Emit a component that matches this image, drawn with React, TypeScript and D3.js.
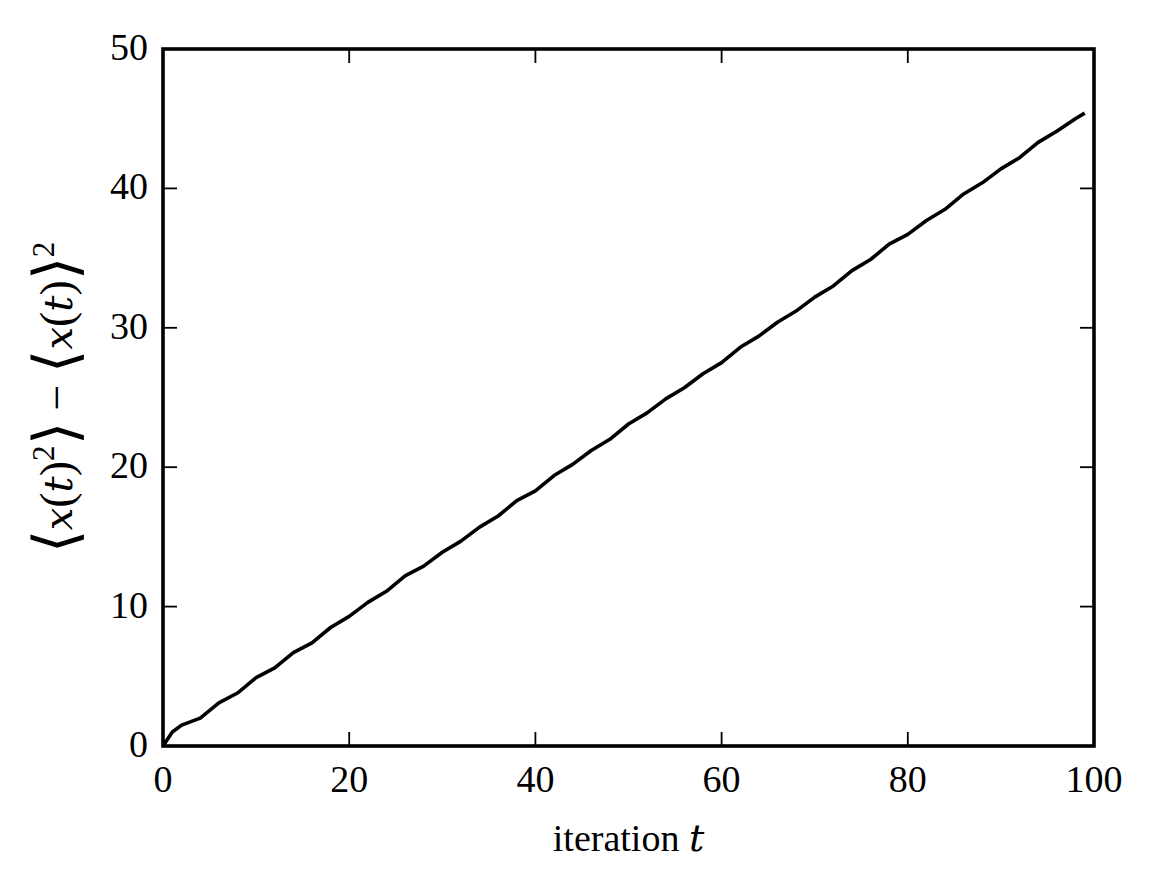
import React from "react";
import * as d3 from "d3";

// ── Data ──────────────────────────────────────────────────────────────────────

const ITERATIONS = [
  0, 1, 2, 4, 6, 8, 10, 12, 14, 16, 18, 20, 22, 24, 26, 28, 30, 32, 34, 36, 38,
  40, 42, 44, 46, 48, 50, 52, 54, 56, 58, 60, 62, 64, 66, 68, 70, 72, 74, 76,
  78, 80, 82, 84, 86, 88, 90, 92, 94, 96, 98, 99,
];
const VARIANCE = [
  0, 1.0, 1.5, 2.0, 3.1, 3.8, 4.9, 5.6, 6.7, 7.4, 8.5, 9.3, 10.3, 11.1, 12.2,
  12.9, 13.9, 14.7, 15.7, 16.5, 17.6, 18.3, 19.4, 20.2, 21.2, 22.0, 23.1, 23.9,
  24.9, 25.7, 26.7, 27.5, 28.6, 29.4, 30.4, 31.2, 32.2, 33.0, 34.1, 34.9, 36.0,
  36.7, 37.7, 38.5, 39.6, 40.4, 41.4, 42.2, 43.3, 44.1, 45.0, 45.4,
];
const X_TICKS = [0, 20, 40, 60, 80, 100];
const Y_TICKS = [0, 10, 20, 30, 40, 50];

// ── Layout ────────────────────────────────────────────────────────────────────

const W = 1155;
const H = 890;
const PLOT = { left: 163, right: 1094, top: 49, bottom: 746 };
const TICK = 14;
const FONT = "'Liberation Serif', 'Times New Roman', serif";
const MATH = "'DejaVu Serif', 'Liberation Serif', serif";
const FS = 38;

export default function App() {
  const x = d3.scaleLinear().domain([0, 100]).range([PLOT.left, PLOT.right]);
  const y = d3.scaleLinear().domain([0, 50]).range([PLOT.bottom, PLOT.top]);

  const line = d3
    .line<number>()
    .x((_, i) => x(ITERATIONS[i]))
    .y((v) => y(v));

  const midY = (PLOT.top + PLOT.bottom) / 2;
  const midX = (PLOT.left + PLOT.right) / 2;

  // pieces of the mathtext y label
  const bracket = { fontFamily: "'DejaVu Sans', sans-serif", fontSize: 60, fontWeight: 200 };
  const ital = { fontFamily: MATH, fontStyle: "italic" as const, fontSize: 40 };
  const paren = { fontFamily: FONT, fontSize: 46 };
  const up = { fontFamily: FONT, fontSize: 31 };

  return (
    <div style={{ position: "absolute", left: 0, top: 0 }}>
      <svg width={W} height={H} style={{ display: "block", background: "#fff" }}>
        <rect width={W} height={H} fill="#fff" />

        {/* data line */}
        <path
          d={line(VARIANCE) ?? ""}
          fill="none"
          stroke="#000"
          strokeWidth={3.6}
          strokeLinejoin="round"
        />

        {/* ticks, inward on all four sides */}
        {X_TICKS.map((t) => (
          <g key={`xt${t}`} stroke="#000" strokeWidth={1.8}>
            <line x1={x(t)} x2={x(t)} y1={PLOT.bottom} y2={PLOT.bottom - TICK} />
            <line x1={x(t)} x2={x(t)} y1={PLOT.top} y2={PLOT.top + TICK} />
          </g>
        ))}
        {Y_TICKS.map((t) => (
          <g key={`yt${t}`} stroke="#000" strokeWidth={1.8}>
            <line x1={PLOT.left} x2={PLOT.left + TICK} y1={y(t)} y2={y(t)} />
            <line x1={PLOT.right} x2={PLOT.right - TICK} y1={y(t)} y2={y(t)} />
          </g>
        ))}

        {/* frame */}
        <rect
          x={PLOT.left}
          y={PLOT.top}
          width={PLOT.right - PLOT.left}
          height={PLOT.bottom - PLOT.top}
          fill="none"
          stroke="#000"
          strokeWidth={3.6}
        />

        {/* tick labels */}
        <g fontFamily={FONT} fontSize={FS} fill="#000">
          {X_TICKS.map((t) => (
            <text key={`xl${t}`} x={x(t)} y={PLOT.bottom + 46} textAnchor="middle">
              {t}
            </text>
          ))}
          {Y_TICKS.map((t) => (
            <text key={`yl${t}`} x={PLOT.left - 15} y={y(t) + 11} textAnchor="end">
              {t}
            </text>
          ))}
        </g>

        {/* x label */}
        <text x={midX} y={851} textAnchor="middle" fontFamily={FONT} fontSize={FS}>
          iteration <tspan fontFamily={MATH} fontStyle="italic">t</tspan>
        </text>

        {/* y label */}
        <text transform={`translate(72,${midY}) rotate(-90)`} textAnchor="middle">
          <tspan {...bracket} dy={4}>⟨</tspan>
          <tspan {...ital} dy={-4}>x</tspan>
          <tspan {...paren}>(</tspan>
          <tspan {...ital}>t</tspan>
          <tspan {...paren}>)</tspan>
          <tspan {...up} dy={-18}>2</tspan>
          <tspan {...bracket} dy={22}>⟩</tspan>
          <tspan {...paren} dx={12} dy={-4}>−</tspan>
          <tspan {...bracket} dx={12} dy={4}>⟨</tspan>
          <tspan {...ital} dy={-4}>x</tspan>
          <tspan {...paren}>(</tspan>
          <tspan {...ital}>t</tspan>
          <tspan {...paren}>)</tspan>
          <tspan {...bracket} dy={4}>⟩</tspan>
          <tspan {...up} dy={-22}>2</tspan>
        </text>
      </svg>
    </div>
  );
}
